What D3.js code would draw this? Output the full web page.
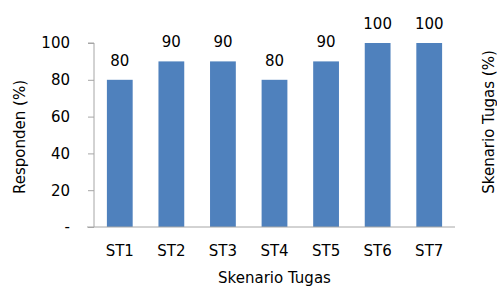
<!DOCTYPE html>
<html><head><meta charset="utf-8">
<script src="https://cdn.jsdelivr.net/npm/d3@7"></script>
<style>body{margin:0;background:#fff}svg{display:block}text{font-family:"DejaVu Sans",sans-serif;fill:#000}</style>
</head><body><svg id="c" width="497" height="288"></svg>
<script>
const categories = ["ST1","ST2","ST3","ST4","ST5","ST6","ST7"];
const values = [80,90,90,80,90,100,100];
const yTicks = [0,20,40,60,80,100];
const yTickLabels = ["-","20","40","60","80","100"];

const svg = d3.select("#c");
const m = {l:94, r:42, t:43, b:61};
const W = 497, H = 288;
const x = d3.scaleBand().domain(categories).range([m.l, W - m.r]).paddingInner(0.5).paddingOuter(0.25);
const y = d3.scaleLinear().domain([0,100]).range([H - m.b, m.t]);
const axisColor = "#a6a6a6";
const fs = 15;

// y axis
const ya = svg.append("g").attr("transform", `translate(${m.l},0)`)
  .call(d3.axisLeft(y).tickValues(yTicks).tickFormat((d,i)=>yTickLabels[i]).tickSize(6).tickPadding(18));
ya.select(".domain").attr("stroke", axisColor).attr("d", `M-6,${y(100)}H0V${y(0)}`);
ya.selectAll(".tick line").attr("stroke", axisColor);
ya.selectAll(".tick text").attr("font-size", fs).attr("font-family", "DejaVu Sans").attr("fill","#000");

// bars
svg.append("g").selectAll("rect").data(values).join("rect")
  .attr("x", (d,i)=>x(categories[i])).attr("width", x.bandwidth())
  .attr("y", d=>y(d)).attr("height", d=>y(0)-y(d)).attr("fill", "#4f81bd");

// value labels
svg.append("g").selectAll("text").data(values).join("text")
  .attr("x", (d,i)=>x(categories[i]) + x.bandwidth()/2).attr("y", d=>y(d)-14)
  .attr("text-anchor","middle").attr("font-size", fs).text(d=>d);

// x axis
const xa = svg.append("g").attr("transform", `translate(0,${y(0)})`)
  .call(d3.axisBottom(x).tickSize(0).tickPadding(18));
xa.select(".domain").attr("stroke", axisColor).attr("d", `M${m.l - 7},0H${W - m.r}`);
xa.selectAll(".tick text").attr("font-size", fs).attr("font-family", "DejaVu Sans").attr("fill","#000");

// titles
svg.append("text").attr("x", (m.l + W - m.r)/2).attr("y", 283).attr("text-anchor","middle").attr("font-size", fs).text("Skenario Tugas");
svg.append("text").attr("transform", `translate(25,137) rotate(-90)`).attr("text-anchor","middle").attr("font-size", fs).text("Responden (%)");
svg.append("text").attr("transform", `translate(494,122) rotate(-90)`).attr("text-anchor","middle").attr("font-size", fs).text("Skenario Tugas (%)");
</script></body></html>
